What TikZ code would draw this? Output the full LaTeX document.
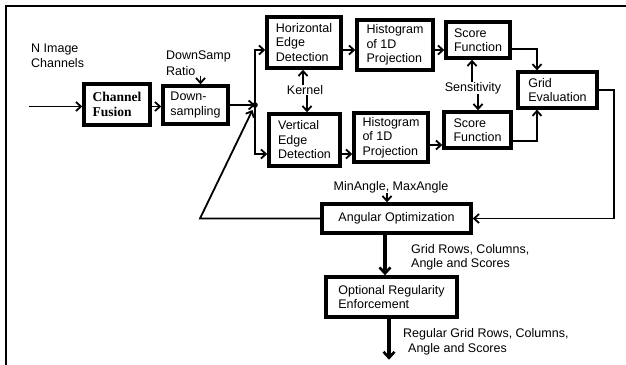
\documentclass[tikz,border=0pt]{standalone}
\usepackage{fontspec}
\setmainfont{Liberation Sans}
\newfontfamily\timesf{Liberation Serif}
\usetikzlibrary{arrows.meta}
\begin{document}
\begin{tikzpicture}[x=1pt,y=-1pt,
 box/.style={draw, line width=3.4pt, align=left, inner sep=0pt, font=\fontsize{12.5}{14.5}\selectfont},
 lbl/.style={align=left, inner sep=0pt, font=\fontsize{12.5}{14.5}\selectfont},
 conn/.style={line width=1.8pt, -{Straight Barb[length=5pt,width=9pt,line width=1.8pt]}},
 bigconn/.style={line width=3.2pt, -{Straight Barb[length=6pt,width=11pt,line width=2.6pt]}}
]
\useasboundingbox (0,0) rectangle (626,364);
\draw[line width=2.8pt] (6,370) -- (6,6) -- (630,6);

% boxes
\node[box, minimum width=66pt, minimum height=41pt, font=\timesf\bfseries\fontsize{13.5}{15.5}\selectfont] (cf) at (117,104.5) {Channel\\Fusion};
\node[box, minimum width=65pt, minimum height=38pt] (ds) at (195.5,105) {Down-\\sampling};
\node[box, minimum width=74pt, minimum height=51pt] (he) at (304,42.5) {Horizontal\\Edge\\Detection};
\node[box, minimum width=71pt, minimum height=52pt] (ve) at (304.5,140) {Vertical\\Edge\\Detection};
\node[box, minimum width=76pt, minimum height=50pt] (h1) at (395,45) {Histogram\\of 1D\\Projection};
\node[box, minimum width=74pt, minimum height=49pt] (h2) at (391,137.5) {Histogram\\of 1D\\Projection};
\node[box, minimum width=64pt, minimum height=36pt] (s1) at (478,40) {Score\\Function};
\node[box, minimum width=67pt, minimum height=36pt] (s2) at (477.5,130) {Score\\Function};
\node[box, minimum width=79pt, minimum height=36pt, line width=3.2pt] (ge) at (557.5,90) {Grid\\Evaluation};
\node[box, minimum width=149pt, minimum height=29pt] (ao) at (396.5,218.5) {Angular Optimization};
\node[box, minimum width=131pt, minimum height=40pt] (or) at (391.5,297) {Optional Regularity\\Enforcement};

% labels
\node[lbl, anchor=west] (nic) at (31,56) {N Image\\Channels};
\node[lbl, anchor=west, font=\fontsize{12.5}{16}\selectfont] (dsr) at (166,63) {DownSamp\\Ratio};
\node[lbl] (kl) at (305,90) {Kernel};
\node[lbl] (sen) at (473,88) {Sensitivity};
\node[lbl] (ma) at (391,187) {MinAngle, MaxAngle};
\node[lbl, anchor=west] (gr) at (411,257.5) {Grid Rows, Columns,\\Angle and Scores};
\node[lbl, anchor=west] (rgr) at (403,342) {Regular Grid Rows, Columns,\\\hspace*{5pt}Angle and Scores};

% junction and coordinates
\coordinate (in) at (29,106.5);
\coordinate (j) at (255,105);
\coordinate (jt) at (255,50);
\coordinate (jb) at (255,154);
\coordinate (fb) at (200,218.5);
\coordinate (jd) at (252.5,110);

% connectors
\draw[conn] (in) -- (in -| cf.west);
\draw[conn] ([yshift=-2pt]cf.east) -- ([yshift=-2pt]cf.east -| ds.west);
\draw[conn] ([xshift=2pt]dsr.south) -- ([xshift=2pt]dsr.south |- ds.north);
\draw[conn] (ds.east) -- (j);
\fill (j) circle (2.8pt);
\draw[conn] (j) -- (jt) -- (jt -| he.west);
\draw[conn] (j) -- (jb) -- (jb -| ve.west);
\draw[conn] (ao.west) -- (fb) -- (jd);
\draw[conn] ([xshift=-2pt]kl.north) -- ([xshift=-2pt]kl.north |- he.south);
\draw[conn] ([xshift=2pt]kl.south) -- ([xshift=2pt]kl.south |- ve.north);
\draw[conn] ([yshift=-7.5pt]he.east) -- ([yshift=-7.5pt]he.east -| h1.west);
\draw[conn] ([yshift=-5pt]h1.east) -- ([yshift=-5pt]h1.east -| s1.west);
\draw[conn] ([yshift=-14pt]ve.east) -- ([yshift=-14pt]ve.east -| h2.west);
\draw[conn] ([yshift=-7.5pt]h2.east) -- ([yshift=-7.5pt]h2.east -| s2.west);
\draw[conn] ([xshift=-1pt]sen.north) -- ([xshift=-1pt]sen.north |- s1.south);
\draw[conn] ([xshift=5pt]sen.south) -- ([xshift=5pt]sen.south |- s2.north);
\draw[conn] ([yshift=-9pt]s1.east) -| ([xshift=-20.5pt]ge.north);
\draw[conn] ([yshift=-11pt]s2.east) -| ([xshift=-20.5pt]ge.south);
\draw[conn] (ge.east) -- ++(15,0) |- (ao.east);
\draw[conn] ([xshift=-4pt]ma.south) -- ([xshift=-4pt]ma.south |- ao.north);
\draw[bigconn] ([xshift=-11.5pt]ao.south) -- ([xshift=-11.5pt]ao.south |- or.north);
\draw[bigconn] ([xshift=-2.5pt]or.south) -- ++(0,41);
\end{tikzpicture}
\end{document}
